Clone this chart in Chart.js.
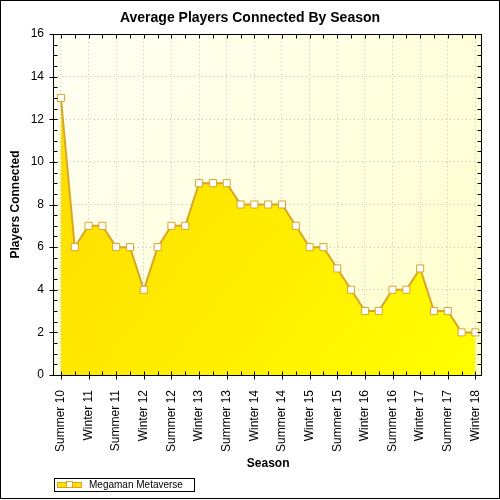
<!DOCTYPE html>
<html>
<head>
<meta charset="utf-8">
<script src="https://cdn.jsdelivr.net/npm/chart.js@4/dist/chart.umd.min.js"></script>
<style>
  html, body { margin: 0; padding: 0; background: #fff; }
  canvas { display: block; }
</style>
</head>
<body>
<canvas id="grafica" width="500" height="500"></canvas>
<script>
// Dades del gràfic
const seasons = [
  'Summer 10', '', 'Winter 11', '', 'Summer 11', '', 'Winter 12', '', 'Summer 12', '',
  'Winter 13', '', 'Summer 13', '', 'Winter 14', '', 'Summer 14', '', 'Winter 15', '',
  'Summer 15', '', 'Winter 16', '', 'Summer 16', '', 'Winter 17', '', 'Summer 17', '',
  'Winter 18'
];
const players = [13, 6, 7, 7, 6, 6, 4, 6, 7, 7, 9, 9, 9, 8, 8, 8, 8, 7, 6, 6, 5, 4, 3, 3, 4, 4, 5, 3, 3, 2, 2];
const serieNom = 'Megaman Metaverse';
const yMin = 0, yMax = 16, yStep = 2;

const FONT = "'Liberation Sans', Arial, sans-serif";
const OR = '#d8a628';

// Fons del gràfic, vores, marques i llegenda
const decoracio = {
  id: 'decoracio',
  beforeDraw(chart) {
    const { ctx, chartArea: a } = chart;
    const g = ctx.createLinearGradient(a.left, a.top, a.right, a.bottom);
    g.addColorStop(0, '#fffff4');
    g.addColorStop(1, '#ffffcc');
    ctx.save();
    ctx.fillStyle = g;
    ctx.fillRect(a.left, a.top, a.right - a.left, a.bottom - a.top);
    ctx.restore();
  },
  afterDraw(chart) {
    const { ctx, chartArea: a } = chart;
    const x = chart.scales.x, y = chart.scales.y;
    ctx.save();
    ctx.strokeStyle = '#000';
    ctx.lineWidth = 1;
    // vora exterior
    ctx.strokeRect(0.5, 0.5, 499, 498);
    // vora de l'àrea
    const L = Math.round(a.left) - 0.5, R = Math.round(a.right) - 0.5;
    const T = Math.round(a.top) + 0.5, B = Math.round(a.bottom) + 0.5;
    ctx.strokeRect(L, T, R - L, B - T);
    ctx.beginPath();
    for (let v = yMin; v <= yMax; v += 0.5) {
      const py = Math.round(y.getPixelForValue(v)) + 0.5;
      if (v % yStep === 0) { ctx.moveTo(L - 4, py); ctx.lineTo(L + 4, py); }
      else { ctx.moveTo(L, py); ctx.lineTo(L + 4, py); }
      ctx.moveTo(R, py); ctx.lineTo(R - 4, py);
    }
    for (let i = 0; i < seasons.length; i++) {
      const px = Math.round(x.getPixelForValue(i)) + 0.5;
      if (i % 2 === 0) { ctx.moveTo(px, B - 4); ctx.lineTo(px, B + 4); }
      else { ctx.moveTo(px, B - 4); ctx.lineTo(px, B); }
      ctx.moveTo(px, T); ctx.lineTo(px, T + 4);
    }
    ctx.stroke();

    // llegenda
    ctx.strokeRect(54.5, 478.5, 140, 13);
    ctx.fillStyle = '#ffe000';
    ctx.fillRect(57, 482, 25, 6);
    ctx.strokeStyle = OR;
    ctx.strokeRect(57.5, 482.5, 24, 5);
    ctx.fillStyle = '#fff';
    ctx.fillRect(66, 481, 7, 7);
    ctx.strokeRect(66.5, 481.5, 6, 6);
    ctx.fillStyle = '#000';
    ctx.font = '10px ' + FONT;
    ctx.textBaseline = 'middle';
    ctx.fillText(chart.data.datasets[0].label, 89, 485.5);
    ctx.restore();
  }
};

function crearGrafica() {
  const ctx = document.getElementById('grafica').getContext('2d');
  new Chart(ctx, {
    type: 'line',
    data: {
      labels: seasons,
      datasets: [{
        label: serieNom,
        data: players,
        fill: 'origin',
        backgroundColor: (c) => {
          const a = c.chart.chartArea;
          if (!a) return '#ffee00';
          const g = c.chart.ctx.createLinearGradient(a.left, a.top, a.right, a.bottom);
          g.addColorStop(0, '#ffd800');
          g.addColorStop(1, '#ffff00');
          return g;
        },
        borderColor: OR,
        borderWidth: 2,
        tension: 0,
        pointStyle: 'rect',
        pointRadius: 5,
        pointBorderWidth: 1,
        pointBorderColor: OR,
        pointBackgroundColor: '#fff'
      }]
    },
    options: {
      responsive: false,
      animation: false,
      layout: { padding: { left: 0, right: 0, top: 0, bottom: 29 } },
      plugins: {
        legend: { display: false },
        tooltip: { enabled: false },
        title: {
          display: true,
          text: 'Average Players Connected By Season',
          color: '#000',
          font: { family: FONT, size: 14, weight: 'bold' },
          padding: { top: 10, bottom: 7.2 }
        }
      },
      scales: {
        x: {
          type: 'category',
          offset: true,
          afterFit: (s) => { s.height = 96; },
          grid: {
            offset: false,
            color: (c) => c.index % 2 === 0 ? '#c4c4c4' : 'rgba(0,0,0,0)',
            tickColor: 'rgba(0,0,0,0)',
            tickLength: 5
          },
          border: { display: false, dash: [1, 3] },
          ticks: {
            autoSkip: false,
            maxRotation: 90,
            minRotation: 90,
            padding: 10,
            color: '#000',
            font: { family: FONT, size: 12 }
          },
          title: {
            display: true,
            text: 'Season',
            color: '#000',
            font: { family: FONT, size: 12, weight: 'bold' },
            padding: { top: 7, bottom: 0 }
          }
        },
        y: {
          min: yMin,
          max: yMax,
          afterFit: (s) => { s.width = 54; },
          grid: {
            color: (c) => (c.tick && c.tick.value > yMin && c.tick.value < yMax) ? '#c4c4c4' : 'rgba(0,0,0,0)',
            tickColor: 'rgba(0,0,0,0)',
            tickLength: 4
          },
          border: { display: false, dash: [1, 3] },
          ticks: {
            stepSize: yStep,
            padding: 6,
            color: '#000',
            font: { family: FONT, size: 12 }
          },
          title: {
            display: true,
            text: 'Players Connected',
            color: '#000',
            font: { family: FONT, size: 12, weight: 'bold' },
            padding: { top: 8, bottom: 4 }
          }
        },
        dreta: {
          position: 'right',
          min: yMin,
          max: yMax,
          afterFit: (s) => { s.width = 11; },
          grid: { drawOnChartArea: false, drawTicks: false },
          border: { display: false },
          ticks: { display: false }
        }
      }
    },
    plugins: [decoracio]
  });
}

crearGrafica();
</script>
</body>
</html>
